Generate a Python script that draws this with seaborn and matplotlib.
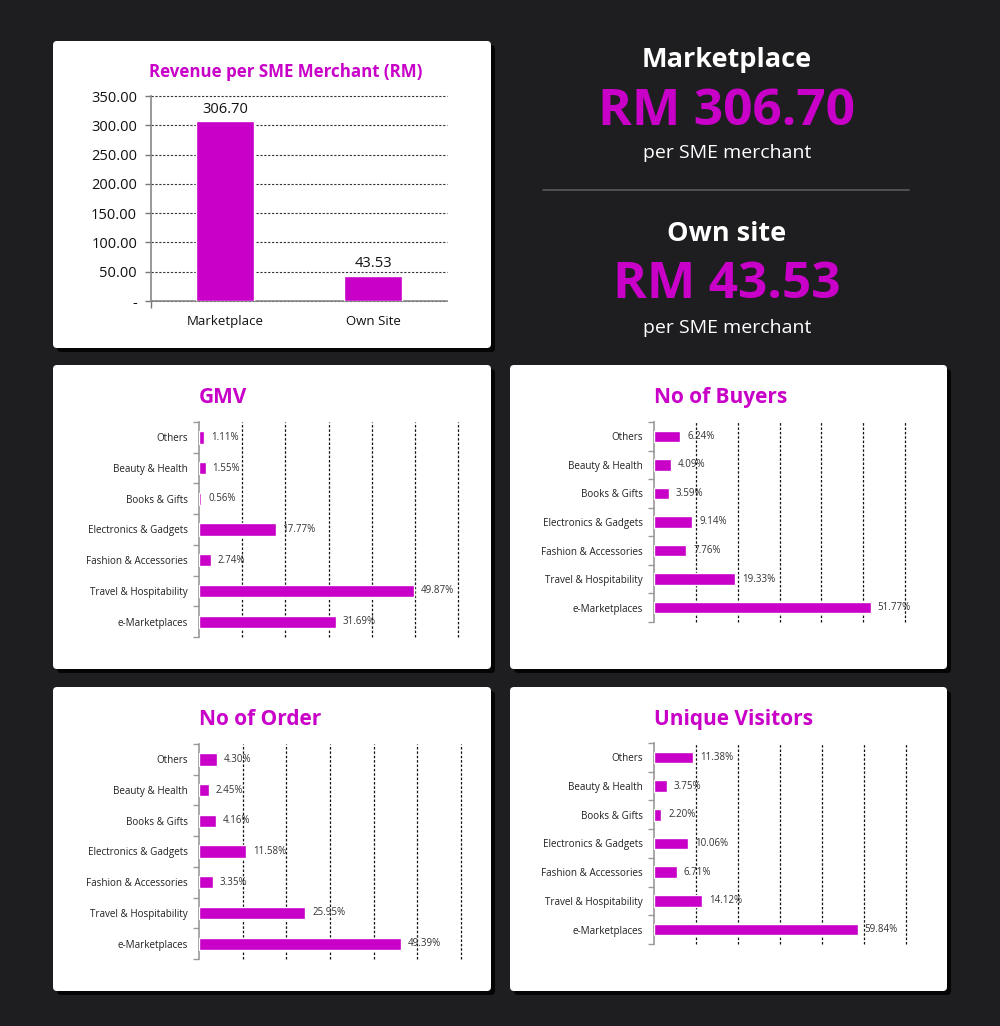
import seaborn as sns
import matplotlib.pyplot as plt
from matplotlib.patches import FancyBboxPatch
from matplotlib.ticker import FixedLocator

# data
rev_cats = ["Marketplace", "Own Site"]
rev_vals = [306.70, 43.53]
rev_ticks = [0, 50, 100, 150, 200, 250, 300, 350]

segments = ["Others", "Beauty & Health", "Books & Gifts", "Electronics & Gadgets",
            "Fashion & Accessories", "Travel & Hospitability", "e-Marketplaces"]
gmv = [1.11, 1.55, 0.56, 17.77, 2.74, 49.87, 31.69]
buyers = [6.24, 4.09, 3.59, 9.14, 7.76, 19.33, 51.77]
orders = [4.30, 2.45, 4.16, 11.58, 3.35, 25.95, 49.39]
visitors = [11.38, 3.75, 2.20, 10.06, 6.71, 14.12, 59.84]

MAGENTA = "#c800c8"
BG = "#1e1e20"
W, H = 1000, 1026

sns.set_theme(style="white")
plt.rcParams["font.family"] = ["Open Sans", "DejaVu Sans"]

fig = plt.figure(figsize=(W / 100, H / 100), dpi=100)
fig.patch.set_facecolor(BG)


def fx(x):
    return x / W


def fy(y):
    return 1 - y / H


def card(x0, y0, x1, y1):
    # shadow then white card
    fig.add_artist(FancyBboxPatch((fx(x0 + 4), fy(y1 + 4)), fx(x1 - x0), (y1 - y0) / H,
                                  boxstyle="round,pad=0,rounding_size=0.004",
                                  transform=fig.transFigure, fc="#050505", ec="none", zorder=0))
    fig.add_artist(FancyBboxPatch((fx(x0), fy(y1)), fx(x1 - x0), (y1 - y0) / H,
                                  boxstyle="round,pad=0,rounding_size=0.004",
                                  transform=fig.transFigure, fc="white", ec="none", zorder=0.5))


def make_ax(left, top, right, bottom):
    ax = fig.add_axes([fx(left), fy(bottom), fx(right - left), (bottom - top) / H])
    ax.set_facecolor("none")
    ax.set_zorder(2)
    return ax


card(53, 41, 491, 348)
card(53, 365, 491, 669)
card(510, 365, 947, 669)
card(53, 687, 491, 991)
card(510, 687, 947, 991)

# ---- top-left vertical bar chart
ax = make_ax(151, 96, 447, 301)
sns.barplot(x=rev_cats, y=rev_vals, color=MAGENTA, width=0.39, saturation=1, ax=ax, zorder=3)
ax.set_ylim(0, 350)
ax.set_xlim(-0.5, 1.5)
ax.set_yticks(rev_ticks)
ax.set_yticklabels(["-" if t == 0 else f"{t:.2f}" for t in rev_ticks], fontsize=10.5, color="#111")
ax.set_xticks(range(len(rev_cats)))
ax.set_xticklabels(rev_cats, fontsize=9.5, color="#111")
ax.xaxis.set_minor_locator(FixedLocator([-0.5]))
ax.tick_params(axis="x", which="major", length=0, pad=10)
ax.tick_params(axis="x", which="minor", length=5, width=1, color="#777", direction="out", bottom=True)
ax.tick_params(axis="y", length=4, width=1, color="#777", direction="out", left=True, pad=6)
ax.grid(axis="y", ls=(0, (2, 1.5)), color="#333", lw=0.8)
ax.grid(axis="x", visible=False)
for s in ["top", "right"]:
    ax.spines[s].set_visible(False)
for s in ["left", "bottom"]:
    ax.spines[s].set_color("#888")
    ax.spines[s].set_linewidth(1.2)
for gl in ax.get_ygridlines():
    gl.set_clip_on(False)
ax.bar_label(ax.containers[0], labels=[f"{v:.2f}" for v in rev_vals], fontsize=10.5,
             color="#111", padding=3)
ax.set_xlabel("")
ax.set_ylabel("")
fig.text(fx(286), fy(77), "Revenue per SME Merchant (RM)", ha="center", va="baseline",
         fontsize=12.2, fontweight="bold", color=MAGENTA)

# ---- right-hand headline figures
cx = 727
fig.text(fx(cx), fy(67), "Marketplace", ha="center", va="baseline", fontsize=19.5,
         fontweight="bold", color="white")
fig.text(fx(cx), fy(125), f"RM {rev_vals[0]:.2f}", ha="center", va="baseline", fontsize=37,
         fontweight="bold", color=MAGENTA)
fig.text(fx(cx), fy(158), "per SME merchant", ha="center", va="baseline", fontsize=14,
         color="white")
fig.add_artist(plt.Line2D([fx(543), fx(909)], [fy(190), fy(190)], color="#5a5a5c", lw=1.2,
                          transform=fig.transFigure))
fig.text(fx(cx), fy(241), "Own site", ha="center", va="baseline", fontsize=19.5,
         fontweight="bold", color="white")
fig.text(fx(cx), fy(298), f"RM {rev_vals[1]:.2f}", ha="center", va="baseline", fontsize=37,
         fontweight="bold", color=MAGENTA)
fig.text(fx(cx), fy(333), "per SME merchant", ha="center", va="baseline", fontsize=14,
         color="white")


# ---- horizontal bar panels
def hbar(vals, title, box, xmax, title_base):
    left, top, right, bottom = box
    ax = make_ax(left, top, right, bottom)
    sns.barplot(x=vals, y=segments, color=MAGENTA, orient="h", width=0.4, saturation=1,
                ax=ax, zorder=3)
    ax.set_xlim(0, xmax)
    ax.set_ylim(len(segments) - 0.5, -0.5)
    step = xmax / 6
    ax.set_xticks([step * i for i in range(1, 7)])
    ax.set_xticklabels([])
    ax.tick_params(axis="x", length=0)
    ax.grid(axis="x", ls=(0, (2, 1.5)), color="#111", lw=0.9)
    ax.grid(axis="y", visible=False)
    for gl in ax.get_xgridlines():
        gl.set_clip_on(False)
    ax.set_yticks(range(len(segments)))
    ax.set_yticklabels(segments, fontsize=7.1, color="#222")
    ax.yaxis.set_minor_locator(FixedLocator([i - 0.5 for i in range(len(segments) + 1)]))
    ax.tick_params(axis="y", which="major", length=0, pad=8)
    ax.tick_params(axis="y", which="minor", length=4, width=1, color="#999",
                   direction="out", left=True)
    for s in ["top", "right", "bottom"]:
        ax.spines[s].set_visible(False)
    ax.spines["left"].set_color("#999")
    ax.spines["left"].set_linewidth(1.2)
    ax.bar_label(ax.containers[0], labels=[f"{v:.2f}%" for v in vals], fontsize=7,
                 color="#333", padding=5)
    ax.set_xlabel("")
    ax.set_ylabel("")
    fig.text(fx(left), fy(title_base), title, ha="left", va="baseline", fontsize=15,
             fontweight="bold", color=MAGENTA)


hbar(gmv, "GMV", (199, 422, 458, 637), 60, 403)
hbar(buyers, "No of Buyers", (654, 422, 905, 622), 60, 403)
hbar(orders, "No of Order", (199, 744, 461, 959), 64, 725)
hbar(visitors, "Unique Visitors", (654, 743, 906, 944), 74, 725)

fig.savefig("out.png", dpi=100, facecolor=BG)
